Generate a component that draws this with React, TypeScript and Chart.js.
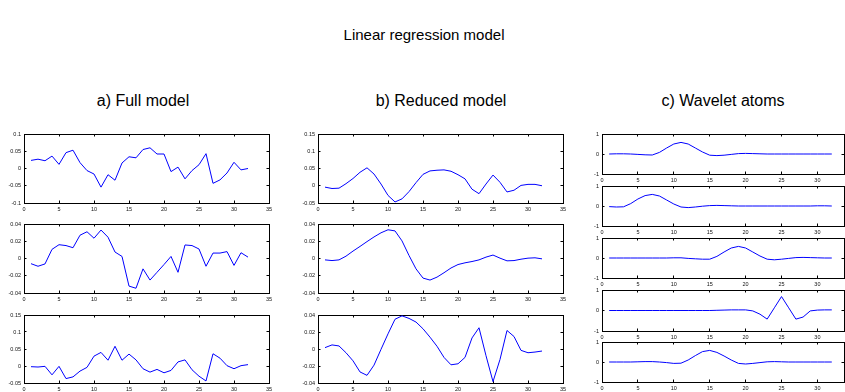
import React, { useEffect, useRef } from "react";
import { Chart, registerables } from "chart.js";
Chart.register(...registerables);

const FONT = "'Liberation Sans', Arial, Helvetica, sans-serif";

const xValues = [1, 2, 3, 4, 5, 6, 7, 8, 9, 10, 11, 12, 13, 14, 15, 16, 17, 18, 19, 20, 21, 22, 23, 24, 25, 26, 27, 28, 29, 30, 31, 32];

const mainTitle = "Linear regression model";
const columnTitles = ["a) Full model", "b) Reduced model", "c) Wavelet atoms"];

// a) Full model
const fullModel1 = [0.0235, 0.027, 0.0225, 0.036, 0.012, 0.046, 0.053, 0.017, -0.006, -0.016, -0.054, -0.018, -0.034, 0.016, 0.034, 0.031, 0.055, 0.06, 0.042, 0.042, -0.009, 0.004, -0.03, -0.006, 0.011, 0.043, -0.043, -0.033, -0.013, 0.018, -0.004, 0];
const fullModel2 = [-0.006, -0.009, -0.0063, 0.0106, 0.016, 0.015, 0.0125, 0.027, 0.031, 0.0235, 0.033, 0.0247, 0.0075, 0.0024, -0.032, -0.0345, -0.012, -0.025, -0.016, -0.007, 0.0024, -0.016, 0.0157, 0.015, 0.011, -0.009, 0.0063, 0.0063, 0.008, -0.008, 0.0067, 0.0016];
const fullModel3 = [-0.002, -0.003, -0.001, -0.026, -0.001, -0.037, -0.032, -0.015, -0.004, 0.029, 0.04, 0.017, 0.058, 0.017, 0.035, 0.018, -0.008, -0.018, -0.01, -0.02, -0.013, 0.012, 0.018, -0.011, -0.03, -0.044, 0.036, 0.023, 0.001, -0.008, 0.001, 0.004];

// b) Reduced model
const reduced1 = [-0.004, -0.008, -0.007, 0.006, 0.021, 0.039, 0.052, 0.034, 0.005, -0.028, -0.047, -0.038, -0.017, 0.009, 0.033, 0.043, 0.045, 0.046, 0.042, 0.032, 0.02, -0.01, -0.023, 0.005, 0.031, 0.01, -0.018, -0.013, 0.001, 0.004, 0.004, 0];
const reduced2 = [-0.0016, -0.0024, -0.0016, 0.0027, 0.0086, 0.014, 0.0196, 0.025, 0.0298, 0.0333, 0.032, 0.0204, 0.0035, -0.012, -0.0227, -0.025, -0.0216, -0.0165, -0.011, -0.007, -0.005, -0.0035, -0.0016, 0.0016, 0.004, 0.0004, -0.0027, -0.0024, -0.0008, 0.0004, 0.0008, -0.0004];
const reduced3 = [0.0016, 0.0048, 0.0036, -0.0044, -0.0139, -0.027, -0.031, -0.019, -0.0004, 0.0178, 0.035, 0.039, 0.036, 0.0317, 0.0238, 0.0139, 0.0032, -0.0099, -0.0186, -0.0174, -0.0099, 0.013, 0.025, -0.0079, -0.0384, -0.0123, 0.0218, 0.0147, -0.0016, -0.0044, -0.0036, -0.0024];

// c) Wavelet atoms
const atom1 = [0, 0.01, 0.01, 0, -0.02, -0.04, -0.05, 0.08, 0.3, 0.5, 0.58, 0.5, 0.3, 0.1, -0.06, -0.08, -0.06, -0.02, 0.02, 0.03, 0.02, 0.01, 0, 0, 0, 0, 0, 0, 0, 0, 0, 0];
const atom2 = [-0.03, -0.05, -0.04, 0.12, 0.35, 0.52, 0.58, 0.5, 0.3, 0.1, -0.05, -0.08, -0.05, -0.01, 0.02, 0.03, 0.02, 0.01, 0, 0, 0, 0, 0, 0, 0, 0, 0, 0, 0, 0.01, 0.01, 0];
const atom3 = [0, 0, 0, 0, 0, 0, 0, 0, 0, 0.01, 0.01, -0.02, -0.04, -0.06, -0.06, 0.08, 0.3, 0.5, 0.58, 0.5, 0.3, 0.1, -0.06, -0.09, -0.06, -0.02, 0.02, 0.03, 0.02, 0.01, 0, 0];
const atom4 = [0, 0, 0, 0, 0, 0, 0, 0, 0, 0, 0, 0, 0, 0, 0, 0.01, 0.02, 0.03, 0.03, 0.03, -0.02, -0.18, -0.42, 0.13, 0.68, 0.13, -0.42, -0.32, -0.02, 0.02, 0.03, 0.03];
const atom5 = [0, 0, 0, 0, 0.01, 0.02, 0.02, 0, -0.03, -0.07, -0.06, 0.1, 0.32, 0.52, 0.58, 0.48, 0.3, 0.1, -0.07, -0.1, -0.07, -0.03, 0.01, 0.02, 0.01, 0, 0, 0, 0, 0, 0, 0];

const xTickStep = 5;

type SubProps = {
  l: number; t: number; r: number; b: number;
  xMax: number; yMin: number; yMax: number; yStep: number;
  values: number[];
};

const LEFT_W = 30;
const TOP_P = 11;
const BOTTOM_H = 16;
const TICK_IN = -2.5;

function Subplot({ l, t, r, b, xMax, yMin, yMax, yStep, values }: SubProps) {
  const ref = useRef<HTMLCanvasElement>(null);
  const padR = Math.max(0, Math.min(9, 845 - (r + 1)));
  const width = (r + 1 - l) + LEFT_W + padR;
  const height = (b + 1 - t) + TOP_P + BOTTOM_H;
  useEffect(() => {
    if (!ref.current) return;
    const tickFont = { size: 5.5, family: FONT };
    const border = { display: true, color: "#000", width: 1 };
    const grid = { display: true, drawOnChartArea: false, drawTicks: true, tickLength: TICK_IN, color: "#000", lineWidth: 1 };
    const xCommon = { type: "linear", min: 0, max: xMax, border, grid };
    const yCommon = { type: "linear", min: yMin, max: yMax, border, grid };
    const chart = new Chart(ref.current, {
      type: "line",
      data: {
        datasets: [
          {
            data: xValues.map((x, i) => ({ x, y: values[i] })),
            borderColor: "#0000ff",
            borderWidth: 1,
            pointRadius: 0,
            tension: 0,
            fill: false,
            xAxisID: "x",
            yAxisID: "y",
          },
        ],
      },
      options: {
        animation: false,
        responsive: false,
        maintainAspectRatio: false,
        events: [],
        layout: { padding: { left: 0, right: padR, top: TOP_P, bottom: 0 } },
        plugins: { legend: { display: false }, tooltip: { enabled: false }, title: { display: false } },
        scales: {
          x: {
            ...xCommon,
            position: "bottom",
            ticks: {
              stepSize: xTickStep,
              includeBounds: false,
              autoSkip: false,
              maxRotation: 0,
              font: tickFont,
              color: "#111",
              padding: 3 - TICK_IN,
            },
            afterFit: (s: any) => { s.height = BOTTOM_H; },
          },
          xTop: {
            ...xCommon,
            position: "top",
            ticks: { stepSize: xTickStep, includeBounds: false, autoSkip: false, display: false },
            afterFit: (s: any) => { s.height = 0; },
          },
          y: {
            ...yCommon,
            position: "left",
            ticks: {
              stepSize: yStep,
              autoSkip: false,
              font: tickFont,
              color: "#111",
              padding: 3 - TICK_IN,
              callback: (v: any) => String(parseFloat(Number(v).toFixed(6))),
            },
            afterFit: (s: any) => { s.width = LEFT_W; },
          },
          yRight: {
            ...yCommon,
            position: "right",
            ticks: { stepSize: yStep, autoSkip: false, display: false },
            afterFit: (s: any) => { s.width = 0; },
          },
        },
      } as any,
    });
    return () => chart.destroy();
  }, []);
  return (
    <canvas
      ref={ref}
      width={width}
      height={height}
      style={{ position: "absolute", left: l - LEFT_W, top: t - TOP_P, width, height }}
    />
  );
}

const colA = { l: 24, r: 268 };
const colB = { l: 318, r: 562 };
const colC = { l: 602, r: 843 };
const rowsAB = [
  { t: 134, b: 202 },
  { t: 224, b: 292 },
  { t: 315, b: 382 },
];
const rowsC = [
  { t: 134, b: 173 },
  { t: 186, b: 225 },
  { t: 238, b: 277 },
  { t: 290, b: 330 },
  { t: 342, b: 381 },
];

export default function App() {
  const titleStyle: React.CSSProperties = {
    position: "absolute",
    fontFamily: FONT,
    color: "#000",
    whiteSpace: "nowrap",
    transform: "translate(-50%, -50%)",
    lineHeight: 1,
  };
  return (
    <div style={{ position: "absolute", left: 0, top: 0, width: 845, height: 392, overflow: "hidden", background: "#fff" }}>
      <div style={{ ...titleStyle, left: 424, top: 34, fontSize: 15 }}>{mainTitle}</div>
      <div style={{ ...titleStyle, left: 143, top: 101, fontSize: 16 }}>{columnTitles[0]}</div>
      <div style={{ ...titleStyle, left: 441, top: 101, fontSize: 16 }}>{columnTitles[1]}</div>
      <div style={{ ...titleStyle, left: 723, top: 101, fontSize: 16 }}>{columnTitles[2]}</div>

      <Subplot {...colA} {...rowsAB[0]} xMax={35} yMin={-0.1} yMax={0.1} yStep={0.05} values={fullModel1} />
      <Subplot {...colA} {...rowsAB[1]} xMax={35} yMin={-0.04} yMax={0.04} yStep={0.02} values={fullModel2} />
      <Subplot {...colA} {...rowsAB[2]} xMax={35} yMin={-0.05} yMax={0.15} yStep={0.05} values={fullModel3} />

      <Subplot {...colB} {...rowsAB[0]} xMax={35} yMin={-0.05} yMax={0.15} yStep={0.05} values={reduced1} />
      <Subplot {...colB} {...rowsAB[1]} xMax={35} yMin={-0.04} yMax={0.04} yStep={0.02} values={reduced2} />
      <Subplot {...colB} {...rowsAB[2]} xMax={35} yMin={-0.04} yMax={0.04} yStep={0.02} values={reduced3} />

      <Subplot {...colC} {...rowsC[0]} xMax={33.7} yMin={-1} yMax={1} yStep={1} values={atom1} />
      <Subplot {...colC} {...rowsC[1]} xMax={33.7} yMin={-1} yMax={1} yStep={1} values={atom2} />
      <Subplot {...colC} {...rowsC[2]} xMax={33.7} yMin={-1} yMax={1} yStep={1} values={atom3} />
      <Subplot {...colC} {...rowsC[3]} xMax={33.7} yMin={-1} yMax={1} yStep={1} values={atom4} />
      <Subplot {...colC} {...rowsC[4]} xMax={33.7} yMin={-1} yMax={1} yStep={1} values={atom5} />
    </div>
  );
}
